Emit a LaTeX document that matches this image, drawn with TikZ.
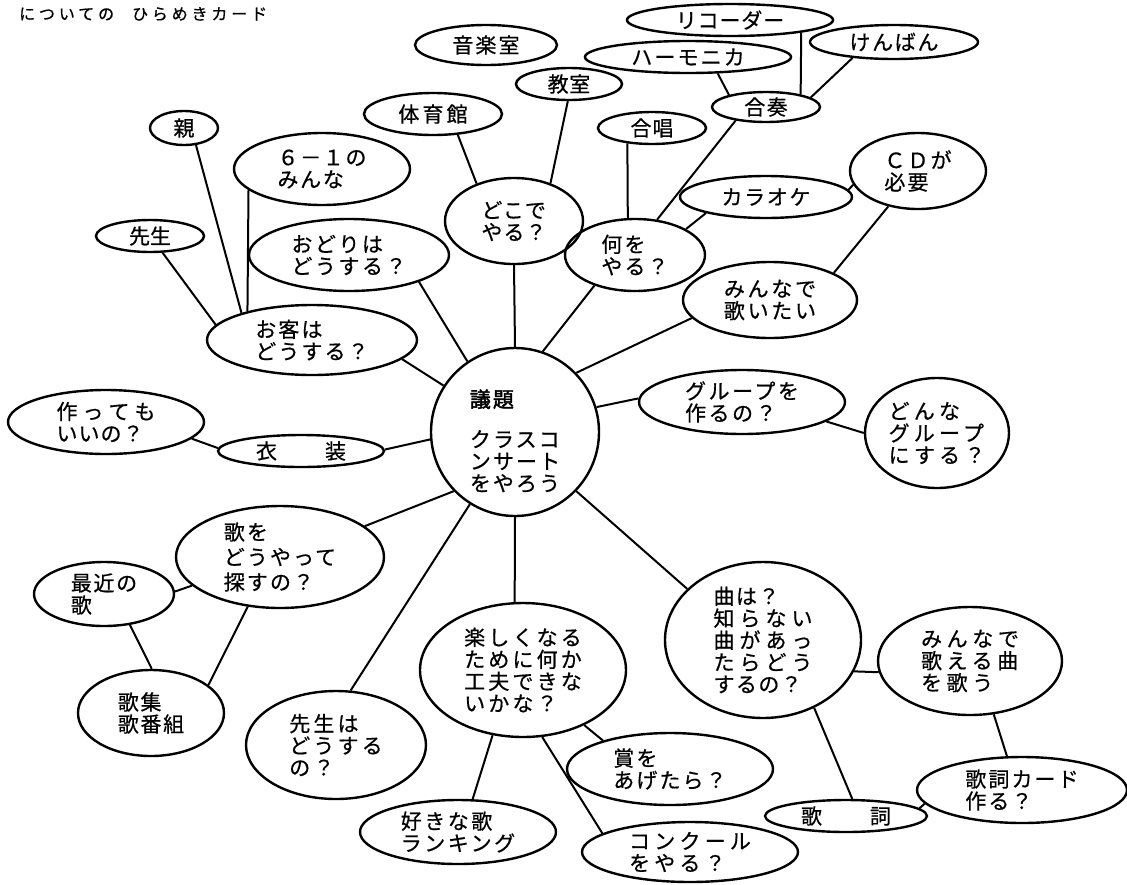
\documentclass[tikz,border=0pt]{standalone}
\usepackage{fontspec}
\setmainfont{Noto Sans CJK JP}
\usetikzlibrary{shapes.geometric}
\newcommand\jgap{\kern5pt}
\tikzset{
  bub/.style={draw, ellipse, line width=2.4pt, inner sep=0pt},
  txt/.style={align=left, inner sep=0pt, font=\fontsize{21}{22}\selectfont\addfontfeature{LetterSpace=#1,FakeBold=0.6}},
  txt/.default=8,
  con/.style={line width=2pt},
}
\newcommand\bub[7]{%
  \node[bub, minimum width={2*#4}, minimum height={2*#5}] (#1) at (#2,#3) {};
  \node[txt=#6] (#1-t) at (#1) {#7};
}
\begin{document}
\begin{tikzpicture}[x=1pt,y=-1pt]
\useasboundingbox (0,0) rectangle (1127,884);
\node[anchor=west, inner sep=0pt, font=\fontsize{16}{16}\selectfont\addfontfeature{LetterSpace=24,FakeBold=0.8}] (title) at (19,14) {についての\hspace{18pt}ひらめきカード};

\bub{ongaku}{486}{45}{71}{20}{10}{音楽室}
\bub{recorder}{730}{20}{103}{16}{4}{リコーダー}
\bub{harmonica}{688}{57}{103}{16}{10}{ハーモニカ}
\bub{kenban}{894}{42}{84}{17}{8}{けんばん}
\bub{gassou}{766}{107}{54}{15}{7}{合奏}
\bub{kyoshitsu}{569}{84}{53}{16}{3}{教室}
\bub{taiiku}{433}{114}{69}{21}{15}{体育館}
\bub{gasshou}{652}{128}{54}{16}{5}{合唱}
\bub{oya}{184}{128}{34}{17}{0}{親}
\bub{rokuichi}{322}{169}{88}{36}{8}{６－１の\\みんな}
\bub{dokode}{514}{221}{69}{43}{5}{どこで\\やる？}
\bub{cd}{918}{171}{68}{38}{10}{ＣＤが\\必要}
\bub{karaoke}{766}{197}{86}{21}{8}{カラオケ}
\bub{sensei}{150}{236}{54}{16}{0}{先生}
\bub{odori}{349}{255}{100}{36}{12}{おどりは\\どうする？}
\bub{nani}{635}{255}{70}{36}{10}{何を\\やる？}
\bub{utaitai}{770}{300}{87}{38}{13}{みんなで\\歌いたい}
\bub{okyaku}{312}{340}{105}{35}{10}{お客は\\どうする？}
\node[draw, circle, line width=2.4pt, minimum size=168pt, inner sep=0pt] (gidai) at (515,432) {};
\node[txt=10] (gidai-t) at (515,441) {{\addfontfeature{FakeBold=2.2}議題}\\[18pt]クラスコ\\ンサート\\をやろう};
\bub{group}{742}{402}{103}{32}{12}{グループを\\作るの？}
\bub{donna}{937}{433}{72}{55}{20}{どんな\\グループ\\にする？}
\bub{tsukutte}{106}{422}{98}{32}{5}{作\jgap っ\jgap て\jgap も\\いいの？}
\bub{isho}{301}{451}{83}{16}{0}{衣\hspace{48pt}装}
\node[bub, minimum width=208pt, minimum height=102pt] (sagasu) at (280,557) {};
\node[txt=10, font=\fontsize{21}{25}\selectfont\addfontfeature{LetterSpace=10,FakeBold=0.6}] (sagasu-t) at (sagasu) {歌を\\どうやって\\探すの？};
\bub{saikin}{104}{594}{70}{32}{8}{最近の\\歌}
\bub{kashu}{151}{713}{73}{43}{8}{歌集\\歌番組}
\bub{senseiwa}{336}{745}{90}{54}{15}{先生は\\どうする\\の？}
\bub{tanoshiku}{523}{670}{103}{67}{15}{楽しくなる\\ために何か\\工夫できな\\いかな？}
\bub{kyoku}{763}{640}{98}{78}{7}{曲は？\\知\jgap ら\jgap な\jgap い\\曲\jgap が\jgap あ\jgap っ\\た\jgap ら\jgap ど\jgap う\\するの？}
\bub{utaeru}{970}{661}{92}{54}{22}{みんなで\\歌える曲\\を歌う}
\bub{card}{1022}{790}{105}{33}{10}{歌詞カード\\作る？}
\bub{kashi}{846}{816}{81}{16}{0}{歌\hspace{48pt}詞}
\bub{sho}{670}{769}{103}{36}{10}{賞を\\あげたら？}
\bub{suki}{458}{832}{98}{32}{12}{好きな歌\\ランキング}
\bub{concours}{690}{852}{108}{30}{20}{コンクール\\をやる？}

\draw[con] (kyoshitsu.266) -- (dokode.46);
\draw[con] (taiiku.320) -- (dokode.135);
\draw[con] (dokode.270) -- (gidai.90);
\draw[con] (gasshou.212) -- (nani.101);
\draw[con] (gassou.204) -- (nani.58);
\draw[con] (harmonica.331) -- (gassou.162);
\draw[con] (recorder.350) -- (gassou.20);
\draw[con] (kenban.201) -- (gassou.12);
\draw[con] (karaoke.195) -- (nani.27);
\draw[con] (cd.192) -- (karaoke.5);
\draw[con] (cd.230) -- (utaitai.23);
\draw[con] (utaitai.193) -- (gidai.44);
\draw[con] (nani.217) -- (gidai.71);
\draw[con] (oya.305) -- (okyaku.159);
\draw[con] (rokuichi.196) -- (okyaku.156);
\draw[con] (sensei.307) -- (okyaku.171);
\draw[con] (odori.339) -- (gidai.124);
\draw[con] (okyaku.348) -- (gidai.147);
\draw[con] (tsukutte.349) -- (isho.178);
\draw[con] (isho.1) -- (gidai.185);
\draw[con] (gidai.17) -- (group.178);
\draw[con] (group.347) -- (donna.180);
\draw[con] (gidai.224) -- (sagasu.20);
\draw[con] (gidai.238) -- (senseiwa.75);
\draw[con] (gidai.270) -- (tanoshiku.97);
\draw[con] (gidai.316) -- (kyoku.146);
\draw[con] (sagasu.198) -- (saikin.2);
\draw[con] (sagasu.237) -- (kashu.26);
\draw[con] (saikin.310) -- (kashu.89);
\draw[con] (tanoshiku.318) -- (sho.157);
\draw[con] (tanoshiku.245) -- (suki.66);
\draw[con] (tanoshiku.286) -- (concours.168);
\draw[con] (kyoku.341) -- (utaeru.187);
\draw[con] (kyoku.307) -- (kashi.70);
\draw[con] (utaeru.294) -- (card.114);
\draw[con] (card.188) -- (kashi.6);
\end{tikzpicture}
\end{document}
